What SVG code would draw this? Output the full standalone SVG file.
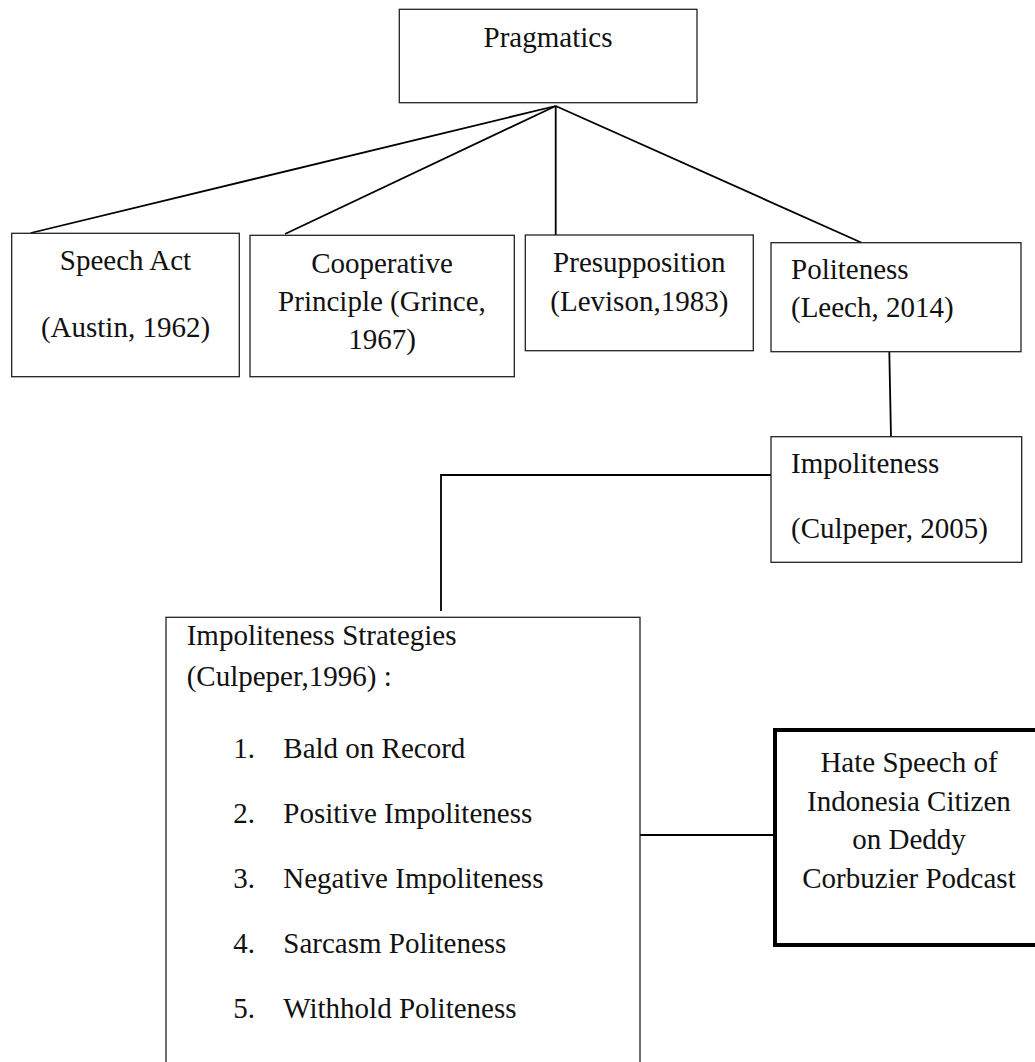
<svg xmlns="http://www.w3.org/2000/svg" width="1035" height="1062" viewBox="0 0 1035 1062">
<style>
.box{fill:#fff;stroke:#222;stroke-width:1.3}
.thick{fill:#fff;stroke:#000;stroke-width:4}
.t{font-family:"Liberation Serif","Times New Roman",serif;font-size:29px;fill:#111}
.c{text-anchor:middle}
.ln{stroke:#000;stroke-width:1.8;fill:none}
</style>
<rect width="1035" height="1062" fill="#fff"/>
<g id="connectors">
<line class="ln" x1="555.7" y1="106" x2="30.7" y2="233"/>
<line class="ln" x1="555.7" y1="106" x2="285" y2="234"/>
<line class="ln" x1="555.7" y1="106" x2="555.7" y2="235"/>
<line class="ln" x1="555.7" y1="106" x2="861.7" y2="242.7"/>
<line class="ln" x1="889.3" y1="351.7" x2="891" y2="436.7"/>
<polyline class="ln" points="772,475 441,475 441,611"/>
<line class="ln" x1="640" y1="835" x2="775" y2="835"/>
</g>
<g id="pragmatics">
<rect class="box" x="399.3" y="9.3" width="297.7" height="93.4"/>
<text class="t c" x="548" y="46.7">Pragmatics</text>
</g>
<g id="speech-act">
<rect class="box" x="11.7" y="233.3" width="227.6" height="143.4"/>
<text class="t c" x="125.5" y="270">Speech Act</text>
<text class="t c" x="125.5" y="336.7">(Austin, 1962)</text>
</g>
<g id="cooperative">
<rect class="box" x="250" y="235.3" width="264.3" height="141.4"/>
<text class="t c" x="382" y="273.3">Cooperative</text>
<text class="t c" x="382" y="310.7">Principle (Grince,</text>
<text class="t c" x="382" y="349.3">1967)</text>
</g>
<g id="presupposition">
<rect class="box" x="525.3" y="235" width="228" height="115.7"/>
<text class="t c" x="639.3" y="271.7">Presupposition</text>
<text class="t c" x="639.3" y="310.7">(Levison,1983)</text>
</g>
<g id="politeness">
<rect class="box" x="771" y="242.7" width="250" height="109"/>
<text class="t" x="791" y="279.3">Politeness</text>
<text class="t" x="791" y="317.3">(Leech, 2014)</text>
</g>
<g id="impoliteness">
<rect class="box" x="771" y="436.7" width="250.7" height="125.6"/>
<text class="t" x="791" y="473.3">Impoliteness</text>
<text class="t" x="791" y="538.3">(Culpeper, 2005)</text>
</g>
<g id="strategies">
<rect class="box" x="166" y="617.3" width="474" height="500"/>
<text class="t" x="186.7" y="645">Impoliteness Strategies</text>
<text class="t" x="186.7" y="686">(Culpeper,1996) :</text>
<text class="t" x="233.3" y="758.3">1.</text><text class="t" x="283.3" y="758.3">Bald on Record</text>
<text class="t" x="233.3" y="822.7">2.</text><text class="t" x="283.3" y="822.7">Positive Impoliteness</text>
<text class="t" x="233.3" y="888">3.</text><text class="t" x="283.3" y="888">Negative Impoliteness</text>
<text class="t" x="233.3" y="953">4.</text><text class="t" x="283.3" y="953">Sarcasm Politeness</text>
<text class="t" x="233.3" y="1017.7">5.</text><text class="t" x="283.3" y="1017.7">Withhold Politeness</text>
</g>
<g id="hate-speech">
<rect class="thick" x="775" y="730" width="300" height="215"/>
<text class="t c" x="909" y="771.7">Hate Speech of</text>
<text class="t c" x="909" y="810.7">Indonesia Citizen</text>
<text class="t c" x="909" y="849">on Deddy</text>
<text class="t c" x="909" y="888.3">Corbuzier Podcast</text>
</g>
</svg>
